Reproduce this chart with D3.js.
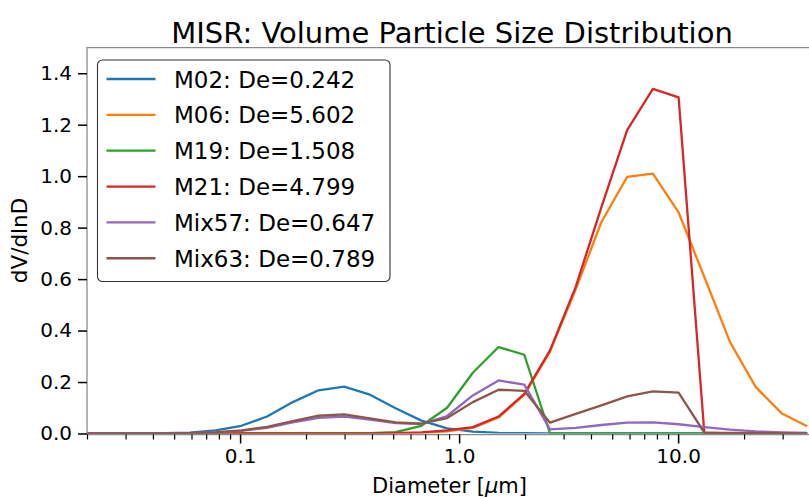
<!DOCTYPE html>
<html>
<head>
<meta charset="utf-8">
<script src="https://cdn.jsdelivr.net/npm/d3@7"></script>
<style>
  html, body { margin: 0; padding: 0; background: #fff; }
  svg { display: block; font-family: "DejaVu Sans", sans-serif; }
</style>
</head>
<body>
<svg id="chart" width="809" height="498"></svg>
<script>
// Particle diameters (µm) of the size bins
const diameters = [0.0200, 0.0262, 0.0343, 0.0450, 0.0590, 0.0773, 0.1013, 0.1328, 0.1740,
  0.2280, 0.2988, 0.3916, 0.5132, 0.6726, 0.8814, 1.155, 1.514, 1.984, 2.600, 3.407,
  4.465, 5.851, 7.668, 10.05, 13.17, 17.26, 22.62, 29.64, 38.84];

// dV/dlnD for each MISR mixture
const m02 = [0, 0, 0, 0.001, 0.003, 0.012, 0.030, 0.066, 0.122, 0.168, 0.182, 0.151, 0.098,
  0.050, 0.020, 0.007, 0.002, 0.001, 0, 0, 0, 0, 0, 0, 0, 0, 0, 0, 0];
const m06 = [0, 0, 0, 0, 0, 0, 0, 0, 0, 0, 0, 0, 0, 0.002, 0.008, 0.022, 0.062, 0.150, 0.318,
  0.560, 0.822, 0.997, 1.010, 0.859, 0.608, 0.355, 0.180, 0.079, 0.028];
const m19 = [0, 0, 0, 0, 0, 0, 0, 0, 0, 0, 0, 0.001, 0.005, 0.030, 0.100, 0.236, 0.336, 0.306,
  0, 0, 0, 0, 0, 0, 0, 0, 0, 0, 0];
const m21 = [0, 0, 0, 0, 0, 0, 0, 0, 0, 0, 0, 0, 0.001, 0.004, 0.012, 0.025, 0.066, 0.154, 0.323,
  0.570, 0.880, 1.179, 1.339, 1.306, 0.003, 0, 0, 0, 0];
const mix57 = [0, 0, 0, 0, 0.001, 0.004, 0.010, 0.022, 0.043, 0.061, 0.066, 0.054, 0.040, 0.037,
  0.068, 0.148, 0.206, 0.190, 0.016, 0.022, 0.033, 0.042, 0.043, 0.036, 0.025, 0.015, 0.008, 0.004, 0.002];
const mix63 = [0, 0, 0, 0, 0.001, 0.004, 0.012, 0.026, 0.048, 0.069, 0.074, 0.059, 0.043, 0.038,
  0.060, 0.122, 0.170, 0.166, 0.042, 0.076, 0.109, 0.144, 0.164, 0.159, 0.003, 0.002, 0.001, 0.001, 0];

const seriesNames = ["M02: De=0.242", "M06: De=5.602", "M19: De=1.508", "M21: De=4.799",
  "Mix57: De=0.647", "Mix63: De=0.789"];
const seriesValues = [m02, m06, m19, m21, mix57, mix63];
const colors = ["#1f77b4", "#ff7f0e", "#2ca02c", "#d62728", "#9467bd", "#8c564b"];

const xTickValues = [0.1, 1, 10];
const xTickLabels = ["0.1", "1.0", "10.0"];
const yTickValues = [0, 0.2, 0.4, 0.6, 0.8, 1.0, 1.2, 1.4];

const svg = d3.select("#chart");
const plot = { left: 87, right: 810, top: 47.5, bottom: 433.5 };

const x = d3.scaleLog().domain([0.02, 40]).range([plot.left, plot.right]);
const y = d3.scaleLinear().domain([0, 1.5]).range([plot.bottom, plot.top]);

svg.append("defs").append("clipPath").attr("id", "plot-clip")
  .append("rect")
  .attr("x", plot.left).attr("y", plot.top)
  .attr("width", plot.right - plot.left).attr("height", plot.bottom - plot.top);

// Lines
const line = d3.line().x(d => x(d[0])).y(d => y(d[1]));
const lines = svg.append("g").attr("clip-path", "url(#plot-clip)");
seriesValues.forEach((vals, i) => {
  lines.append("path")
    .attr("d", line(diameters.map((d, j) => [d, vals[j]])))
    .attr("fill", "none")
    .attr("stroke", colors[i])
    .attr("stroke-width", 2.3)
    .attr("stroke-linejoin", "round");
});

// Spines
const spines = svg.append("g").attr("stroke", "#8a8a8a").attr("stroke-width", 1.25).attr("fill", "none");
spines.append("path").attr("d", `M${plot.left},${plot.bottom}V${plot.top}H${plot.right}V${plot.bottom}`);
spines.append("line").attr("x1", plot.left).attr("x2", plot.right)
  .attr("y1", plot.bottom + 1).attr("y2", plot.bottom + 1);

// X axis: major and minor ticks on the log scale
const minorTicks = x.ticks().filter(v => !xTickValues.some(t => Math.abs(t - v) / t < 1e-6));
const xAxisMinor = d3.axisBottom(x).tickValues(minorTicks).tickSize(5).tickFormat("");
const xAxisMajor = d3.axisBottom(x).tickValues(xTickValues).tickSize(9).tickPadding(5)
  .tickFormat((d, i) => xTickLabels[i]);

const gxMinor = svg.append("g").attr("transform", `translate(0,${plot.bottom + 1})`).call(xAxisMinor);
gxMinor.select(".domain").remove();
gxMinor.selectAll(".tick line").attr("stroke", "#000").attr("stroke-width", 1.2);

const gxMajor = svg.append("g").attr("transform", `translate(0,${plot.bottom + 1})`).call(xAxisMajor);
gxMajor.select(".domain").remove();
gxMajor.selectAll(".tick line").attr("stroke", "#000").attr("stroke-width", 1.5);
gxMajor.selectAll(".tick text").attr("font-size", 20).attr("fill", "#000")
  .attr("font-family", "DejaVu Sans");

// Y axis
const yAxis = d3.axisLeft(y).tickValues(yTickValues).tickSize(9).tickPadding(6)
  .tickFormat(d3.format(".1f"));
const gy = svg.append("g").attr("transform", `translate(${plot.left},0)`).call(yAxis);
gy.select(".domain").remove();
gy.selectAll(".tick line").attr("stroke", "#000").attr("stroke-width", 1.5);
gy.selectAll(".tick text").attr("font-size", 20).attr("fill", "#000")
  .attr("font-family", "DejaVu Sans");

// Axis labels and title
const xl = svg.append("text")
  .attr("x", (plot.left + plot.right) / 2 + 1).attr("y", 493)
  .attr("text-anchor", "middle").attr("font-size", 21).attr("fill", "#000");
xl.append("tspan").text("Diameter [");
xl.append("tspan").attr("font-style", "italic").text("\u03bc");
xl.append("tspan").text("m]");

svg.append("text")
  .attr("transform", `translate(27,${(plot.top + plot.bottom) / 2}) rotate(-90)`)
  .attr("text-anchor", "middle").attr("font-size", 21.5).attr("fill", "#000")
  .text("dV/dlnD");

svg.append("text")
  .attr("x", 452).attr("y", 43)
  .attr("text-anchor", "middle").attr("font-size", 29).attr("fill", "#000")
  .text("MISR: Volume Particle Size Distribution");

// Legend
const legend = svg.append("g");
legend.append("rect")
  .attr("x", 97.5).attr("y", 60).attr("width", 292.5).attr("height", 221.5)
  .attr("rx", 5).attr("ry", 5)
  .attr("fill", "#fff").attr("fill-opacity", 0.85)
  .attr("stroke", "#333").attr("stroke-width", 1.1);
seriesNames.forEach((name, i) => {
  const cy = 79 + i * 35.85;
  legend.append("line")
    .attr("x1", 106.5).attr("x2", 155.5).attr("y1", cy).attr("y2", cy)
    .attr("stroke", colors[i]).attr("stroke-width", 2.3);
  legend.append("text")
    .attr("x", 174).attr("y", cy + 8.5)
    .attr("font-size", 23).attr("fill", "#000")
    .text(name);
});
</script>
</body>
</html>
